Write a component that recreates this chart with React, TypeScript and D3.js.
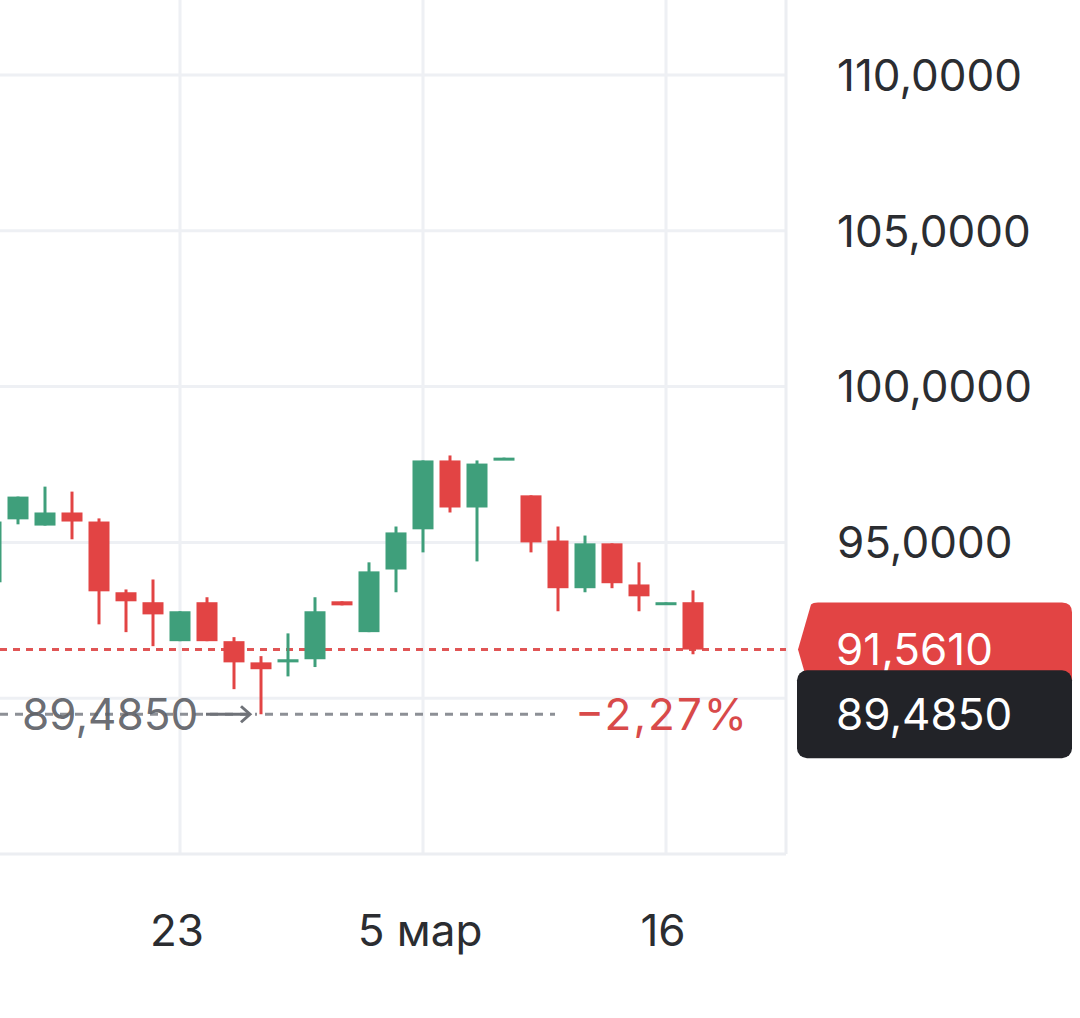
import React from "react";
import * as d3 from "d3";

const opens = [93.72, 95.74, 95.54, 95.96, 95.67, 93.4, 93.08, 91.83, 93.08, 91.83, 91.15, 91.15, 91.25, 93.11, 92.12, 94.13, 95.42, 97.63, 96.12, 97.7, 96.51, 95.06, 93.53, 94.97, 93.65, 93.06, 93.08];
const highs = [95.8, 96.47, 96.79, 96.63, 95.77, 93.49, 93.81, 92.79, 93.24, 91.96, 91.35, 92.08, 93.24, 93.11, 94.36, 95.51, 97.63, 97.79, 97.63, 97.72, 96.51, 95.51, 95.22, 94.97, 94.36, 93.08, 93.46];
const lows = [93.72, 95.58, 95.54, 95.1, 92.37, 92.12, 91.67, 91.83, 91.83, 90.29, 89.485, 90.7, 91.0, 92.98, 92.12, 93.4, 94.68, 95.96, 94.39, 97.7, 94.68, 92.79, 93.4, 93.53, 92.79, 93.06, 91.41];
const closes = [95.67, 96.47, 95.96, 95.67, 93.43, 93.11, 92.69, 92.79, 91.83, 91.15, 90.93, 91.25, 92.79, 92.98, 94.07, 95.32, 97.63, 96.12, 97.53, 97.72, 95.0, 93.53, 94.97, 93.69, 93.27, 93.08, 91.561];

const xTickIndex = [7, 16, 25];
const xTickLabels = ["23", "5 мар", "16"];
const yGrid = [90, 95, 100, 105, 110];
const yLabels = [95, 100, 105, 110];
const lastPrice = 91.561;
const minPrice = 89.485;
const minIndex = 10;
const changeLabel = "−2,27%";

const GREEN = "#3f9f7b";
const RED = "#e24444";
const FONT = "Inter, 'Noto Sans', sans-serif";

const fmt = (v: number) => v.toFixed(4).replace(".", ",");

export default function App() {
  const W = 1080, H = 1018;
  const plotRight = 786;
  const x = d3.scaleLinear().domain([0, 25]).range([-9, 666]);
  const y = d3.scaleLinear().domain([85, 110]).range([854, 75]);
  const plotBottom = y(85);
  const bw = 21;

  const candles = opens.map((o, i) => ({ o, h: highs[i], l: lows[i], c: closes[i], i }));

  const yl = y(lastPrice);
  const ym = y(minPrice);

  const redTag = `M 798 ${yl} L 811 ${yl - 45} Q 813 ${yl - 47} 818 ${yl - 47} L 1062 ${yl - 47} Q 1072 ${yl - 47} 1072 ${yl - 37} L 1072 ${yl + 37} Q 1072 ${yl + 47} 1062 ${yl + 47} L 818 ${yl + 47} Q 813 ${yl + 47} 811 ${yl + 45} Z`;

  return (
    <svg width={W} height={H} style={{ position: "absolute", left: 0, top: 0, background: "#fff" }} fontFamily={FONT}>
      <defs>
        <clipPath id="plot">
          <rect x={0} y={0} width={plotRight} height={plotBottom} />
        </clipPath>
      </defs>
      {/* grid */}
      {yGrid.map((t) => (
        <line key={"h" + t} x1={0} x2={plotRight} y1={y(t)} y2={y(t)} stroke="#eef0f4" strokeWidth={3} />
      ))}
      {xTickIndex.map((i) => (
        <line key={"v" + i} x1={x(i)} x2={x(i)} y1={0} y2={plotBottom} stroke="#eef0f4" strokeWidth={3} />
      ))}
      <line x1={plotRight} x2={plotRight} y1={0} y2={plotBottom} stroke="#eceef2" strokeWidth={3} />
      <line x1={0} x2={plotRight} y1={plotBottom} y2={plotBottom} stroke="#eceef2" strokeWidth={3} />

      {/* y tick labels */}
      {yLabels.map((t) => (
        <text key={"yl" + t} x={837} y={y(t)} dy="0.36em" fontSize={44} fill="#2b2d31">
          {fmt(t)}
        </text>
      ))}
      {/* x tick labels */}
      {xTickIndex.map((i, k) => (
        <text key={"xl" + i} x={x(i) - 3} y={930} dy="0.36em" fontSize={44} fill="#2b2d31" textAnchor="middle">
          {xTickLabels[k]}
        </text>
      ))}

      <g clipPath="url(#plot)">
        {/* last price dashed line */}
        <line x1={0} x2={800} y1={yl} y2={yl} stroke="#e05555" strokeWidth={3} strokeDasharray="7 6" />
        {/* candles */}
        {candles.map((d) => {
          const up = d.c >= d.o;
          const col = up ? GREEN : RED;
          const top = y(Math.max(d.o, d.c));
          const bot = y(Math.min(d.o, d.c));
          const cx = x(d.i);
          return (
            <g key={d.i}>
              <line x1={cx} x2={cx} y1={y(d.h)} y2={y(d.l)} stroke={col} strokeWidth={3} />
              <rect x={cx - bw / 2} y={top} width={bw} height={Math.max(3, bot - top)} fill={col} />
            </g>
          );
        })}
        {/* min annotation */}
        <line x1={0} x2={x(minIndex) - 4} y1={ym} y2={ym} stroke="#8d9096" strokeWidth={3} strokeDasharray="8 7" />
        <line x1={x(minIndex) + 4} x2={555} y1={ym} y2={ym} stroke="#8d9096" strokeWidth={3} strokeDasharray="8 7" />
        <line x1={x(minIndex) - 55} x2={x(minIndex) - 12} y1={ym} y2={ym} stroke="#6f7278" strokeWidth={3} />
        <path d={`M ${x(minIndex) - 20} ${ym - 8} L ${x(minIndex) - 11} ${ym} L ${x(minIndex) - 20} ${ym + 8}`} fill="none" stroke="#6f7278" strokeWidth={3} />
        <text x={22} y={ym} dy="0.36em" fontSize={44} fill="#5d6066" fillOpacity={0.92}>
          {fmt(minPrice)}
        </text>
        <text x={575} y={ym} dy="0.36em" fontSize={44} fill="#d84a4a" textLength={172} lengthAdjust="spacing">
          {changeLabel}
        </text>
      </g>

      {/* price tags */}
      <path d={redTag} fill={RED} />
      <text x={836} y={yl} dy="0.36em" fontSize={44} fill="#fff">{fmt(lastPrice)}</text>
      <rect x={797} y={ym - 44} width={275} height={88} rx={10} fill="#222328" />
      <text x={836} y={ym} dy="0.36em" fontSize={44} fill="#fff">{fmt(minPrice)}</text>
    </svg>
  );
}
